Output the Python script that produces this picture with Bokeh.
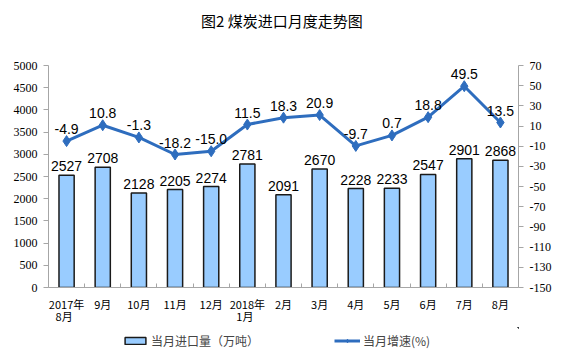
from bokeh.plotting import figure
from bokeh.models import (ColumnDataSource, Range1d, LinearAxis, FixedTicker, LabelSet,
                          Legend, LegendItem, Label)
from bokeh.layouts import column
from bokeh.core.properties import value
from bokeh.embed import file_html
from bokeh.resources import INLINE

title_text = "图2  煤炭进口月度走势图"
months = ["2017年\n  8月", "9月", "10月", "11月", "12月", "2018年\n  1月", "2月", "3月",
          "4月", "5月", "6月", "7月", "8月"]
imports = [2527, 2708, 2128, 2205, 2274, 2781, 2091, 2670, 2228, 2233, 2547, 2901, 2868]
growth = [-4.9, 10.8, -1.3, -18.2, -15.0, 11.5, 18.3, 20.9, -9.7, 0.7, 18.8, 49.5, 13.5]
left_ticks = list(range(0, 5001, 500))
right_ticks = list(range(-150, 71, 20))
legend_labels = ["当月进口量（万吨）", "当月增速(%)"]

x = list(range(len(months)))
src = ColumnDataSource(dict(
    x=x, imports=imports, growth=growth,
    ilab=[str(v) for v in imports],
    glab=["%.1f" % v for v in growth],
))

LINE = "#2E6DBE"
AX = "#A6A6A6"
BAR_FILL = "#99CCFF"
BAR_LINE = "#1A1A1A"
W = 561


def bare(fig):
    fig.outline_line_color = None
    fig.xgrid.visible = False
    fig.ygrid.visible = False
    fig.min_border_left = fig.min_border_right = fig.min_border_top = fig.min_border_bottom = 0
    return fig


# ---- title strip
ft = figure(width=W, height=40, output_backend="svg", toolbar_location=None,
            x_range=Range1d(0, W), y_range=Range1d(0, 40), x_axis_location=None,
            y_axis_location=None)
bare(ft)
ft.add_layout(Label(x=W / 2, y=20, text=title_text, text_align="center",
                    text_baseline="middle", text_font="Noto Sans CJK SC",
                    text_font_size="15px", text_color="#000000"))

# ---- main chart
p = figure(width=W, height=287, output_backend="svg", toolbar_location=None,
           x_range=Range1d(-0.5, len(months) - 0.5), y_range=Range1d(0, 5000),
           min_border_left=48, min_border_right=43, min_border_top=25, min_border_bottom=30)
p.outline_line_color = None
p.xgrid.visible = False
p.ygrid.visible = False

p.extra_y_ranges = {"pct": Range1d(-150, 70)}

p.vbar(x="x", top="imports", width=0.42, source=src, fill_color=BAR_FILL,
       line_color=BAR_LINE, line_width=1.5)
p.line(x="x", y="growth", source=src, y_range_name="pct", line_color=LINE, line_width=3)
p.scatter(x="x", y="growth", source=src, y_range_name="pct", marker="diamond",
          size=11, fill_color=LINE, line_color=LINE)

p.add_layout(LabelSet(x="x", y="imports", text="ilab", source=src, text_align="center",
                      text_baseline="bottom", y_offset=4, text_font=value("Liberation Sans"),
                      text_font_size="14px", text_color="#000000"))
p.add_layout(LabelSet(x="x", y="growth", text="glab", source=src, y_range_name="pct",
                      text_align="center", text_baseline="bottom", y_offset=7,
                      text_font=value("Liberation Sans"), text_font_size="14px",
                      text_color="#000000"))

xa = p.xaxis[0]
xa.ticker = FixedTicker(ticks=x, minor_ticks=[i + 0.5 for i in range(-1, len(months))])
xa.major_label_overrides = {i: m for i, m in enumerate(months)}
xa.major_tick_line_color = None
xa.minor_tick_line_color = AX
xa.minor_tick_in = 4
xa.minor_tick_out = 0
xa.axis_line_color = AX
xa.major_label_text_font = "Noto Sans CJK SC"
xa.major_label_text_font_size = "11px"
xa.major_label_text_color = "#000000"
xa.major_label_text_line_height = 0.8
xa.major_label_standoff = 2

ya = p.yaxis[0]
ya.ticker = FixedTicker(ticks=left_ticks)
ya.major_label_overrides = {t: str(t) for t in left_ticks}
ya.axis_line_color = AX
ya.major_tick_line_color = AX
ya.major_tick_out = 5
ya.major_tick_in = 0
ya.minor_tick_line_color = None
ya.major_label_text_font = "Liberation Serif"
ya.major_label_text_font_size = "12px"
ya.major_label_text_color = "#000000"
ya.major_label_standoff = 6

ra = LinearAxis(y_range_name="pct", ticker=FixedTicker(ticks=right_ticks))
ra.major_label_overrides = {t: str(t) for t in right_ticks}
ra.axis_line_color = AX
ra.major_tick_line_color = AX
ra.major_tick_out = 5
ra.major_tick_in = 0
ra.minor_tick_line_color = None
ra.major_label_text_font = "Liberation Serif"
ra.major_label_text_font_size = "12px"
ra.major_label_text_color = "#000000"
ra.major_label_standoff = 6
p.add_layout(ra, "right")

# ---- legend strip (same data, ranges kept away from it so only the legend shows)
fl = figure(width=W, height=30, output_backend="svg", toolbar_location=None,
            x_range=Range1d(-100, -99), y_range=Range1d(-1000, -999),
            x_axis_location=None, y_axis_location=None)
bare(fl)
fl.extra_y_ranges = {"pct": Range1d(-1000, -999)}
r_bar = fl.vbar(x="x", top="imports", width=0.42, source=src, fill_color=BAR_FILL,
                line_color=BAR_LINE, line_width=1.5)
r_line = fl.line(x="x", y="growth", source=src, y_range_name="pct", line_color=LINE,
                 line_width=3)
r_mk = fl.scatter(x="x", y="growth", source=src, y_range_name="pct", marker="diamond",
                  size=9, fill_color=LINE, line_color=LINE)
leg = Legend(items=[LegendItem(label=legend_labels[0], renderers=[r_bar]),
                    LegendItem(label=legend_labels[1], renderers=[r_line, r_mk])],
             location=(74, 8), orientation="horizontal", glyph_width=26, glyph_height=9,
             label_text_font="Noto Sans CJK SC", label_text_font_size="12px",
             label_standoff=3, spacing=75,
             border_line_color=None, background_fill_alpha=0, padding=0, margin=0)
fl.add_layout(leg, "center")

layout = column(ft, p, fl, spacing=0)
open("out.html", "w").write(file_html(layout, INLINE))
